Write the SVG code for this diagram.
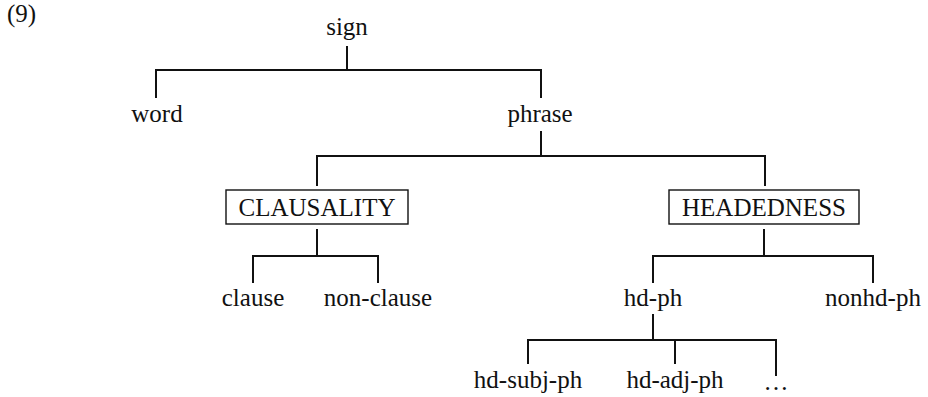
<svg xmlns="http://www.w3.org/2000/svg" width="928" height="397" viewBox="0 0 928 397">
  <style>
    text { font-family: "Liberation Serif", "Times New Roman", serif; font-size: 25px; fill: #111; text-anchor: middle; }
    .num { text-anchor: start; }
    .edge { stroke: #111; stroke-width: 2; fill: none; }
    .box { stroke: #111; stroke-width: 1.4; fill: #fff; }
  </style>
  <rect width="928" height="397" fill="#fff"/>
  <text class="num" x="7" y="22">(9)</text>

  <g id="connectors">
    <!-- sign -> word, phrase -->
    <path class="edge" d="M347 46 V70 M156 98 V70 H541 V98"/>
    <!-- phrase -> CLAUSALITY, HEADEDNESS -->
    <path class="edge" d="M541 131 V156 M317 186 V156 H765 V186"/>
    <!-- CLAUSALITY -> clause, non-clause -->
    <path class="edge" d="M317 229 V256 M253 283 V256 H378 V283"/>
    <!-- HEADEDNESS -> hd-ph, nonhd-ph -->
    <path class="edge" d="M764 229 V256 M653 283 V256 H873 V283"/>
    <!-- hd-ph -> hd-subj-ph, hd-adj-ph, ... -->
    <path class="edge" d="M653 314 V340 M528 364 V340 H776 V376 M675 340 V364"/>
  </g>

  <g id="sign"><text x="347" y="35">sign</text></g>
  <g id="word"><text x="157" y="122">word</text></g>
  <g id="phrase"><text x="540" y="122">phrase</text></g>
  <g id="clausality">
    <rect class="box" x="226" y="190" width="182" height="34"/>
    <text x="317" y="216">CLAUSALITY</text>
  </g>
  <g id="headedness">
    <rect class="box" x="669" y="190" width="190" height="34"/>
    <text x="764" y="216">HEADEDNESS</text>
  </g>
  <g id="clause"><text x="253" y="306">clause</text></g>
  <g id="non-clause"><text x="378" y="306">non-clause</text></g>
  <g id="hd-ph"><text x="653" y="306">hd-ph</text></g>
  <g id="nonhd-ph"><text x="873" y="306">nonhd-ph</text></g>
  <g id="hd-subj-ph"><text x="528" y="388">hd-subj-ph</text></g>
  <g id="hd-adj-ph"><text x="675" y="388">hd-adj-ph</text></g>
  <g id="more"><text x="776" y="390">…</text></g>
</svg>
